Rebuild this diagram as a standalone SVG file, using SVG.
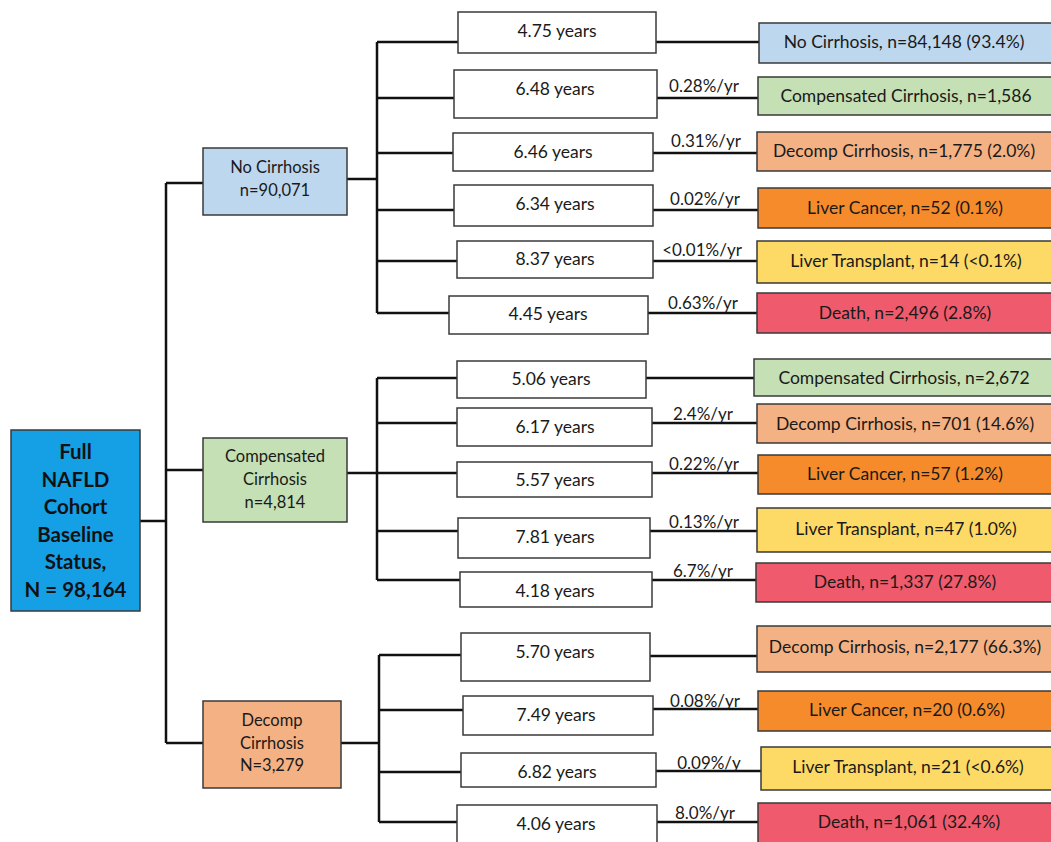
<svg xmlns="http://www.w3.org/2000/svg" width="1051" height="842" viewBox="0 0 1051 842">
<style>
  .bx { stroke: #3a3a3a; stroke-width: 1.5; }
  .yr { fill: #ffffff; }
  .t { font-family: Lato, "Open Sans", "Liberation Sans", sans-serif; font-size: 17.5px; fill: #1a1a1a; text-anchor: middle; dominant-baseline: central; }
  .m { font-family: Lato, "Open Sans", "Liberation Sans", sans-serif; font-size: 16.5px; fill: #1a1a1a; text-anchor: middle; dominant-baseline: central; }
  .root { font-family: Lato, "Open Sans", "Liberation Sans", sans-serif; font-size: 20.5px; font-weight: bold; fill: #111; text-anchor: middle; dominant-baseline: central; }
  .rate { font-family: Lato, "Open Sans", "Liberation Sans", sans-serif; font-size: 17px; fill: #1a1a1a; text-anchor: middle; dominant-baseline: central; }
  .c { fill: none; stroke: #111; stroke-width: 2.5; }
  .blue { fill: #bdd7ee; } .green { fill: #c5e0b4; } .peach { fill: #f4b183; }
  .orange { fill: #f68b2b; } .yellow { fill: #fdd965; } .red { fill: #ef5b6c; }
</style>
<rect width="1051" height="842" fill="#ffffff"/>
<g id="connectors">
  <path class="c" d="M140,521 H166 M166,183 V743 M166,183 H203 M166,470 H203 M166,743 H203"/>
  <path class="c" d="M347,179 H377 M377,42 V313 M377,42 H458 M377,98 H454 M377,153 H453 M377,210 H454 M377,261 H457 M377,313 H449"/>
  <path class="c" d="M656,42 H759 M657,98 H758 M653,153 H757 M653,210 H758 M653,261 H757 M648,313 H757"/>
  <path class="c" d="M347,473 H377 M377,378 V580 M377,378 H457 M377,423 H457 M377,473 H457 M377,531 H458 M377,580 H460"/>
  <path class="c" d="M646,378 H754 M652,423 H757 M652,473 H758 M650,531 H757 M652,580 H756"/>
  <path class="c" d="M341,743 H379 M379,655 V822 M379,655 H461 M379,710 H463 M379,772 H461 M379,822 H457"/>
  <path class="c" d="M650,656 H757 M653,709 H758 M656,771 H761 M657,822 H758"/>
</g>
<g id="root">
  <rect class="bx" x="11" y="430" width="129" height="181" fill="#15a0e6"/>
  <text class="root" x="75.5" y="451">Full</text>
  <text class="root" x="75.5" y="479">NAFLD</text>
  <text class="root" x="75.5" y="506">Cohort</text>
  <text class="root" x="75.5" y="534">Baseline</text>
  <text class="root" x="75.5" y="561">Status,</text>
  <text class="root" x="75.5" y="589">N = 98,164</text>
</g>
<g id="base-no-cirrhosis">
  <rect class="bx blue" x="203" y="148" width="144" height="67"/>
  <text class="m" x="275" y="167">No Cirrhosis</text>
  <text class="m" x="275" y="190">n=90,071</text>
</g>
<g id="base-compensated">
  <rect class="bx green" x="203" y="438" width="144" height="84"/>
  <text class="m" x="275" y="456">Compensated</text>
  <text class="m" x="275" y="479">Cirrhosis</text>
  <text class="m" x="275" y="502">n=4,814</text>
</g>
<g id="base-decomp">
  <rect class="bx peach" x="203" y="701" width="138" height="87"/>
  <text class="m" x="272" y="720">Decomp</text>
  <text class="m" x="272" y="743">Cirrhosis</text>
  <text class="m" x="272" y="765">N=3,279</text>
</g>
<g id="y1"><rect class="bx yr" x="458" y="12" width="198" height="41"/><text class="t" x="557" y="30">4.75 years</text></g>
<g id="y2"><rect class="bx yr" x="454" y="70" width="203" height="48"/><text class="t" x="555" y="88">6.48 years</text></g>
<g id="y3"><rect class="bx yr" x="453" y="133" width="200" height="38"/><text class="t" x="553" y="151">6.46 years</text></g>
<g id="y4"><rect class="bx yr" x="454" y="185" width="199" height="41"/><text class="t" x="555" y="203">6.34 years</text></g>
<g id="y5"><rect class="bx yr" x="457" y="241" width="196" height="37"/><text class="t" x="555" y="258">8.37 years</text></g>
<g id="y6"><rect class="bx yr" x="449" y="296" width="199" height="38"/><text class="t" x="548" y="313">4.45 years</text></g>
<g id="y7"><rect class="bx yr" x="457" y="361" width="189" height="37"/><text class="t" x="551" y="378">5.06 years</text></g>
<g id="y8"><rect class="bx yr" x="457" y="408" width="195" height="38"/><text class="t" x="555" y="426">6.17 years</text></g>
<g id="y9"><rect class="bx yr" x="457" y="462" width="195" height="35"/><text class="t" x="555" y="479">5.57 years</text></g>
<g id="y10"><rect class="bx yr" x="458" y="518" width="192" height="40"/><text class="t" x="555" y="536">7.81 years</text></g>
<g id="y11"><rect class="bx yr" x="460" y="572" width="192" height="35"/><text class="t" x="555" y="590">4.18 years</text></g>
<g id="y12"><rect class="bx yr" x="461" y="633" width="189" height="48"/><text class="t" x="555" y="651">5.70 years</text></g>
<g id="y13"><rect class="bx yr" x="463" y="696" width="190" height="39"/><text class="t" x="556" y="714">7.49 years</text></g>
<g id="y14"><rect class="bx yr" x="461" y="753" width="195" height="34"/><text class="t" x="557" y="771">6.82 years</text></g>
<g id="y15"><rect class="bx yr" x="457" y="805" width="200" height="40"/><text class="t" x="556" y="823">4.06 years</text></g>
<g id="rates">
  <text class="rate" x="704" y="85">0.28%/yr</text>
  <text class="rate" x="706" y="140">0.31%/yr</text>
  <text class="rate" x="705" y="198">0.02%/yr</text>
  <text class="rate" x="702" y="249">&lt;0.01%/yr</text>
  <text class="rate" x="703" y="302">0.63%/yr</text>
  <text class="rate" x="703" y="413">2.4%/yr</text>
  <text class="rate" x="704" y="463">0.22%/yr</text>
  <text class="rate" x="704" y="521">0.13%/yr</text>
  <text class="rate" x="703" y="570">6.7%/yr</text>
  <text class="rate" x="705" y="700">0.08%/yr</text>
  <text class="rate" x="709" y="762">0.09%/y</text>
  <text class="rate" x="705" y="812">8.0%/yr</text>
</g>
<g id="o1"><rect class="bx blue" x="759" y="23" width="296" height="40"/><text class="t" x="904" y="41">No Cirrhosis, n=84,148 (93.4%)</text></g>
<g id="o2"><rect class="bx green" x="758" y="77" width="297" height="38"/><text class="t" x="906" y="95">Compensated Cirrhosis, n=1,586</text></g>
<g id="o3"><rect class="bx peach" x="757" y="132" width="298" height="39"/><text class="t" x="904" y="150">Decomp Cirrhosis, n=1,775 (2.0%)</text></g>
<g id="o4"><rect class="bx orange" x="758" y="188" width="297" height="40"/><text class="t" x="905" y="207">Liver Cancer, n=52 (0.1%)</text></g>
<g id="o5"><rect class="bx yellow" x="757" y="241" width="298" height="42"/><text class="t" x="906" y="260">Liver Transplant, n=14 (&lt;0.1%)</text></g>
<g id="o6"><rect class="bx red" x="757" y="293" width="298" height="40"/><text class="t" x="905" y="312">Death, n=2,496 (2.8%)</text></g>
<g id="o7"><rect class="bx green" x="754" y="359" width="301" height="37"/><text class="t" x="904" y="377">Compensated Cirrhosis, n=2,672</text></g>
<g id="o8"><rect class="bx peach" x="757" y="404" width="298" height="39"/><text class="t" x="905" y="423">Decomp Cirrhosis, n=701 (14.6%)</text></g>
<g id="o9"><rect class="bx orange" x="758" y="455" width="297" height="39"/><text class="t" x="905" y="473">Liver Cancer, n=57 (1.2%)</text></g>
<g id="o10"><rect class="bx yellow" x="757" y="508" width="298" height="44"/><text class="t" x="906" y="528">Liver Transplant, n=47 (1.0%)</text></g>
<g id="o11"><rect class="bx red" x="756" y="563" width="299" height="39"/><text class="t" x="905" y="581">Death, n=1,337 (27.8%)</text></g>
<g id="o12"><rect class="bx peach" x="757" y="626" width="298" height="46"/><text class="t" x="905" y="646">Decomp Cirrhosis, n=2,177 (66.3%)</text></g>
<g id="o13"><rect class="bx orange" x="758" y="691" width="297" height="40"/><text class="t" x="907" y="709">Liver Cancer, n=20 (0.6%)</text></g>
<g id="o14"><rect class="bx yellow" x="761" y="747" width="294" height="43"/><text class="t" x="908" y="766">Liver Transplant, n=21 (&lt;0.6%)</text></g>
<g id="o15"><rect class="bx red" x="758" y="803" width="297" height="42"/><text class="t" x="909" y="821">Death, n=1,061 (32.4%)</text></g>
</svg>
